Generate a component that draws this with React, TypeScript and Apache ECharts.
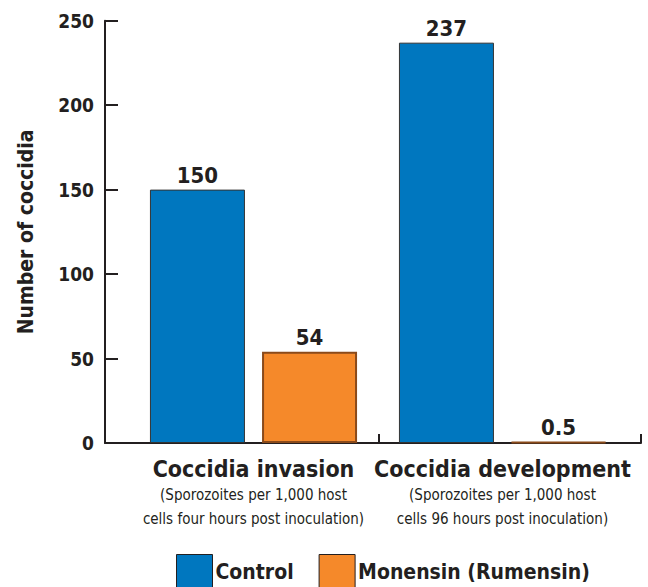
import React, { useEffect, useRef } from "react";
import * as echarts from "echarts";

const categories = ["Coccidia invasion", "Coccidia development"];
const subtitles = [
  ["(Sporozoites per 1,000 host", "cells four hours post inoculation)"],
  ["(Sporozoites per 1,000 host", "cells 96 hours post inoculation)"],
];
const controlValues = [150, 237];
const monensinValues = [54, 0.5];
const valueLabels = [["150", "237"], ["54", "0.5"]];
const seriesNames = ["Control", "Monensin (Rumensin)"];
const yTicks = { min: 0, max: 250, interval: 50 };

const FONT = "'DejaVu Sans Condensed', 'Liberation Sans Narrow', sans-serif";
const INK = "#231f20";
const BLUE = "#0077bf";
const ORANGE = "#f5892a";

export default function App() {
  const ref = useRef<HTMLDivElement>(null);
  useEffect(() => {
    if (!ref.current) return;
    const chart = echarts.init(ref.current, null, { renderer: "svg" });
    const top = 20.7;
    const bottom = 144;
    const valueLabel = (k: number) => ({
      show: true,
      position: "top",
      distance: 3,
      formatter: (p: any) => valueLabels[k][p.dataIndex],
      fontFamily: FONT,
      fontWeight: "bold",
      fontSize: 22,
      color: INK,
    });
    chart.setOption({
      animation: false,
      textStyle: { fontFamily: FONT, color: INK },
      grid: [
        { left: 105, right: 7, top, bottom },
        { left: 129, right: 21, top, bottom },
      ],
      legend: {
        data: seriesNames,
        left: 176,
        top: 554,
        width: 470,
        padding: 0,
        icon: "rect",
        itemWidth: 36,
        itemHeight: 34,
        itemGap: 25,
        textStyle: { fontFamily: FONT, fontWeight: "bold", fontSize: 21, color: INK, padding: [8, 0, 0, -2] },
        itemStyle: { borderColor: INK, borderWidth: 1 },
      },
      xAxis: [
        {
          type: "value",
          gridIndex: 0,
          min: 0,
          max: 536,
          interval: 274,
          axisLine: { show: true, onZero: false, lineStyle: { color: INK, width: 2 } },
          axisTick: { show: true, inside: true, length: 9, lineStyle: { color: INK, width: 2 } },
          axisLabel: { show: false },
          splitLine: { show: false },
        },
        {
          type: "category",
          gridIndex: 1,
          data: categories,
          axisLine: { show: false },
          axisTick: { show: false },
          axisLabel: {
            margin: 12,
            interval: 0,
            formatter: (v: string, i: number) =>
              `{a|${v}}\n{b|${subtitles[i][0]}}\n{b|${subtitles[i][1]}}`,
            rich: {
              a: { fontFamily: FONT, fontWeight: "bold", fontSize: 23, lineHeight: 28, color: INK },
              b: { fontFamily: FONT, fontSize: 15, lineHeight: 24, color: INK },
            },
          },
        },
      ],
      yAxis: [
        {
          type: "value",
          gridIndex: 0,
          min: yTicks.min,
          max: yTicks.max,
          interval: yTicks.interval,
          name: "Number of coccidia",
          nameLocation: "middle",
          nameGap: 69,
          nameTextStyle: { fontFamily: FONT, fontWeight: "bold", fontSize: 21, color: INK },
          axisLine: { show: true, lineStyle: { color: INK, width: 2 } },
          axisTick: { show: true, inside: true, length: 13, lineStyle: { color: INK, width: 2 } },
          axisLabel: { fontFamily: FONT, fontWeight: "bold", fontSize: 19, color: INK, margin: 11 },
          splitLine: { show: false },
        },
        {
          type: "value",
          gridIndex: 1,
          min: yTicks.min,
          max: yTicks.max,
          interval: yTicks.interval,
          show: false,
          splitLine: { show: false },
        },
      ],
      series: [
        {
          name: seriesNames[0],
          type: "bar",
          xAxisIndex: 1,
          yAxisIndex: 1,
          data: controlValues,
          barWidth: 95,
          barGap: "18%",
          itemStyle: { color: BLUE, borderColor: "#333", borderWidth: 1 },
          label: valueLabel(0),
        },
        {
          name: seriesNames[1],
          type: "bar",
          xAxisIndex: 1,
          yAxisIndex: 1,
          data: monensinValues,
          barWidth: 95,
          barGap: "18%",
          itemStyle: { color: ORANGE, borderColor: "#8a4a1a", borderWidth: 2 },
          label: valueLabel(1),
        },
      ],
    });
    return () => chart.dispose();
  }, []);
  return <div ref={ref} style={{ width: 648, height: 587, position: "absolute", left: 0, top: 0 }} />;
}
